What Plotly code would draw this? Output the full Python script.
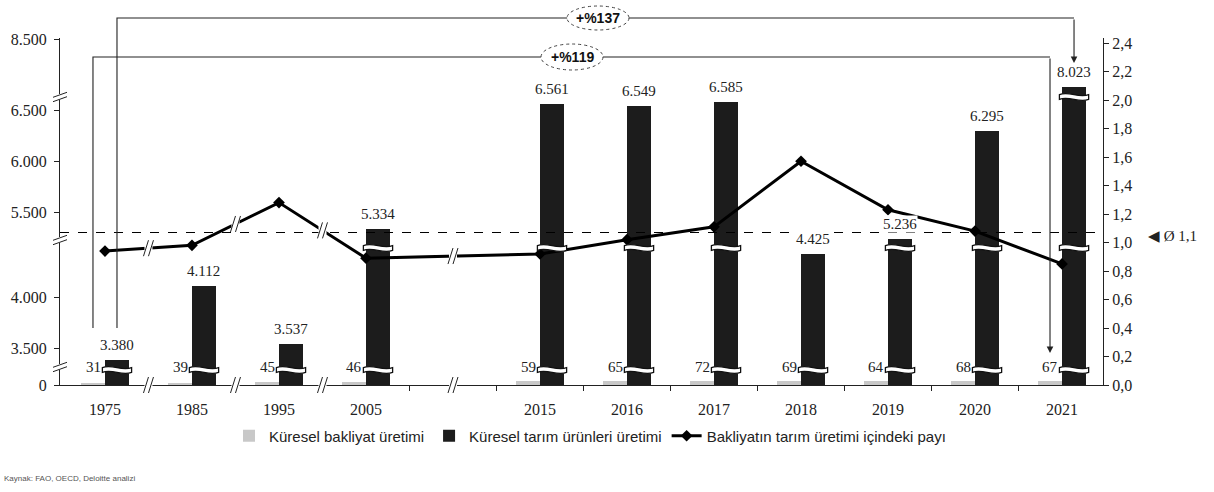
import plotly.graph_objects as go

# ---------------- data ----------------
years = ["1975", "1985", "1995", "2005", "2015", "2016", "2017", "2018", "2019", "2020", "2021"]
pulse_prod = [31, 39, 45, 46, 59, 65, 72, 69, 64, 68, 67]                       # Küresel bakliyat üretimi
agri_prod = [3380, 4112, 3537, 5334, 6561, 6549, 6585, 4425, 5236, 6295, 8023]  # Küresel tarım ürünleri üretimi
pulse_share = [0.94, 0.98, 1.28, 0.89, 0.92, 1.02, 1.11, 1.57, 1.23, 1.08, 0.85]  # pay (%)
avg_share = 1.07
avg_label = "◀ Ø 1,1"
growth_labels = ["+%137", "+%119"]
left_ticks = [0, 3500, 4000, 5500, 6000, 6500, 8500]
right_ticks = [0.0, 0.2, 0.4, 0.6, 0.8, 1.0, 1.2, 1.4, 1.6, 1.8, 2.0, 2.2, 2.4]

# ---------------- layout helpers ----------------
slots = [0, 1, 2, 3, 5, 6, 7, 8, 9, 10, 11]   # slot 4 is the visual gap 2005 -> 2015
W = 0.276                                     # bar width in slot units
XMIN, XMAX = -0.517, 11.471
PW, PH = 1043.0, 347.0                        # plot area size in px
ML, MR, MT, MB = 60, 111, 38, 107
K = 50.7 / 500.0                              # broken-axis scale (px per unit)


def to_axis(v):
    """Broken left axis: map a value to the displayed axis coordinate."""
    if v < 1000:
        return v * 0.06
    if v < 4800:
        return 37 + (v - 3500) * K
    if v < 7500:
        return 173 + (v - 5500) * K
    return 346 + (v - 8500) * K


Y2MAX = PH / 142.5


def px_x(slot):
    return (slot - XMIN) / (XMAX - XMIN)


def py_pix(ypix):
    return (MT + PH - ypix) / PH


fmt = lambda v: f"{v:,}".replace(",", ".")

fig = go.Figure()
fig.add_bar(x=slots, y=[to_axis(v) for v in pulse_prod], width=W, offset=-W,
            marker=dict(color="#c8c8c8", line=dict(width=0)), name="Küresel bakliyat üretimi")
fig.add_bar(x=slots, y=[to_axis(v) for v in agri_prod], width=W, offset=0,
            marker=dict(color="#1c1c1c", line=dict(width=0)), name="Küresel tarım ürünleri üretimi")
fig.add_scatter(x=slots, y=pulse_share, yaxis="y2", mode="lines+markers",
                line=dict(color="black", width=3),
                marker=dict(symbol="diamond", size=9, color="black"),
                name="Bakliyatın tarım üretimi içindeki payı")

shapes = []
annotations = []
SERIF = "Liberation Serif, Times New Roman, serif"
SANS = "Liberation Sans, Arial, sans-serif"


# wavy break bands on the dark bars
def wave_band(x0, x1, dc, t=2.4, a=2.0):
    L = x1 - x0
    return (f"M {x0},{dc+t} C {x0+L/3},{dc+t+2*a} {x0+2*L/3},{dc+t-2*a} {x1},{dc+t} "
            f"L {x1},{dc-t} C {x0+2*L/3},{dc-t-2*a} {x0+L/3},{dc-t+2*a} {x0},{dc-t} Z")


for s, v in zip(slots, agri_prod):
    levels = [15]
    if v >= 5200:
        levels.append(137)
    if v >= 7500:
        levels.append(288)
    for dc in levels:
        shapes.append(dict(type="path", xref="x", yref="y", path=wave_band(s - 0.03, s + W + 0.03, dc),
                           fillcolor="white", line=dict(color="#111", width=1.3), layer="above"))

# average dashed line
shapes.append(dict(type="line", xref="paper", yref="y2", x0=0, x1=1, y0=avg_share, y1=avg_share,
                   line=dict(color="black", width=1.2, dash="dash"), layer="above"))


# break marks
def steep_mark(cx, cy):
    shapes.append(dict(type="rect", xref="paper", yref="paper", x0=cx - 4 / PW, x1=cx + 4 / PW,
                       y0=cy - 7 / PH, y1=cy + 7 / PH, fillcolor="white", line=dict(width=0), layer="above"))
    for off in (-2.5, 2.5):
        shapes.append(dict(type="line", xref="paper", yref="paper",
                           x0=cx + (off - 2.5) / PW, y0=cy - 8 / PH, x1=cx + (off + 2.5) / PW, y1=cy + 8 / PH,
                           line=dict(color="#222", width=1), layer="above"))


def flat_mark(cx, cy):
    shapes.append(dict(type="rect", xref="paper", yref="paper", x0=cx - 6 / PW, x1=cx + 6 / PW,
                       y0=cy - 3 / PH, y1=cy + 3 / PH, fillcolor="white", line=dict(width=0), layer="above"))
    for off in (-2.2, 2.2):
        shapes.append(dict(type="line", xref="paper", yref="paper",
                           x0=cx - 7 / PW, y0=cy + (off - 2.5) / PH, x1=cx + 7 / PW, y1=cy + (off + 2.5) / PH,
                           line=dict(color="#222", width=1), layer="above"))


break_slots = [0.5, 1.5, 2.5, 4.0]
pairs = [(0, 1), (1, 2), (2, 3), (3, 4)]
for bs, (i, j) in zip(break_slots, pairs):
    steep_mark(px_x(bs), 0.0)
    steep_mark(px_x(bs), (pulse_share[i] + pulse_share[j]) / 2 / Y2MAX)
for d in (18, 145, 288):
    flat_mark(0.0, d / PH)

# growth brackets
xl137 = px_x(0 + W / 2)
xr137 = px_x(11 + W / 2)
xl119 = px_x(0 - W / 2)
xr119 = px_x(11 - W / 2)
shapes.append(dict(type="path", xref="paper", yref="paper",
                   path=f"M {xl137},{py_pix(328)} L {xl137},{py_pix(18)} L {xr137},{py_pix(18)}",
                   line=dict(color="#222", width=1.1), layer="above"))
shapes.append(dict(type="path", xref="paper", yref="paper",
                   path=f"M {xl119},{py_pix(328)} L {xl119},{py_pix(57)} L {xr119},{py_pix(57)}",
                   line=dict(color="#222", width=1.1), layer="above"))
for cxp, cyp, rx, ry in ((598, 18, 31, 12), (572, 57, 31, 13)):
    shapes.append(dict(type="circle", xref="paper", yref="paper",
                       x0=(cxp - rx - ML) / PW, x1=(cxp + rx - ML) / PW,
                       y0=py_pix(cyp + ry), y1=py_pix(cyp - ry),
                       fillcolor="white", line=dict(color="#444", width=1, dash="dot"), layer="above"))
for (cxp, cyp), lab in zip(((598, 18), (572, 57)), growth_labels):
    annotations.append(dict(xref="paper", yref="paper", x=(cxp - ML) / PW, y=py_pix(cyp),
                            xanchor="center", yanchor="middle", text=f"<b>{lab}</b>",
                            showarrow=False, font=dict(family=SANS, size=14, color="#111")))
annotations.append(dict(xref="x", yref="paper", x=11 + W / 2, y=py_pix(63), ax=0, ay=-45, text="",
                        showarrow=True, arrowhead=2, arrowsize=1.2, arrowwidth=1.1, arrowcolor="#222"))
annotations.append(dict(xref="x", yref="paper", x=11 - W / 2, y=py_pix(353), ax=0, ay=-296, text="",
                        showarrow=True, arrowhead=2, arrowsize=1.2, arrowwidth=1.1, arrowcolor="#222"))

# value labels
for s, v in zip(slots, agri_prod):
    annotations.append(dict(xref="x", yref="y", x=s + W / 2, y=to_axis(v), yshift=15, text=fmt(v),
                            yanchor="middle", showarrow=False, bgcolor="white", borderpad=0,
                            font=dict(family=SERIF, size=15, color="#222")))
for s, v in zip(slots, pulse_prod):
    annotations.append(dict(xref="x", yref="y", x=s, y=18, xanchor="right", yanchor="middle", xshift=-2,
                            text=str(v), showarrow=False, font=dict(family=SERIF, size=15, color="#222")))

# average label
annotations.append(dict(xref="paper", yref="y2", x=(1146 - ML) / PW, y=avg_share, yshift=-3,
                        xanchor="left", yanchor="middle",
                        text=avg_label, showarrow=False, font=dict(family=SERIF, size=15, color="#222")))
# source
annotations.append(dict(xref="paper", yref="paper", x=(2 - ML) / PW, y=py_pix(478), xanchor="left",
                        yanchor="middle", text="Kaynak: FAO, OECD, Deloitte analizi", showarrow=False,
                        font=dict(family=SANS, size=8, color="#555")))

fig.update_layout(
    width=1214, height=492,
    margin=dict(l=ML, r=MR, t=MT, b=MB, autoexpand=False),
    plot_bgcolor="white", paper_bgcolor="white",
    barmode="overlay", bargap=0,
    showlegend=True,
    legend=dict(orientation="h", x=(590 - ML) / PW, xanchor="center", y=py_pix(436), yanchor="middle",
                font=dict(family=SANS, size=15, color="#222"), bgcolor="rgba(0,0,0,0)",
                itemwidth=30, tracegroupgap=0),
    xaxis=dict(range=[XMIN, XMAX], tickmode="array", tickvals=slots, ticktext=years, automargin=False,
               showline=True, linecolor="#222", linewidth=1, ticks="", showgrid=False, zeroline=False,
               tickfont=dict(family=SERIF, size=16, color="#222"), ticklabelstandoff=10,
               minor=dict(tickmode="array", tickvals=[3.5, 4.5, 5.5, 6.5, 7.5, 8.5, 9.5, 10.5],
                          ticks="outside", ticklen=5, tickcolor="#222", tickwidth=1)),
    yaxis=dict(range=[0, PH], tickmode="array", tickvals=[to_axis(v) for v in left_ticks], automargin=False,
               ticktext=[fmt(v) for v in left_ticks], showline=True, linecolor="#222", linewidth=1,
               ticks="outside", ticklen=5, tickcolor="#222", showgrid=False, zeroline=False,
               tickfont=dict(family=SERIF, size=16, color="#222"), ticklabelstandoff=4),
    yaxis2=dict(range=[0, Y2MAX], overlaying="y", side="right", tickmode="array", tickvals=right_ticks,
                ticktext=[f"{v:.1f}".replace(".", ",") for v in right_ticks], showline=True, automargin=False,
                linecolor="#222", linewidth=1, ticks="outside", ticklen=5, tickcolor="#222",
                showgrid=False, zeroline=False, tickfont=dict(family=SERIF, size=16, color="#222")),
    shapes=shapes,
    annotations=annotations,
)

fig.write_html("out.html", config={"displayModeBar": False},
               post_script="document.body.style.margin='0px';")
